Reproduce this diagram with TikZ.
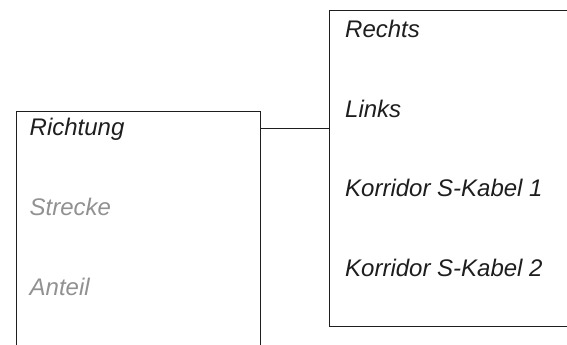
\documentclass[tikz,border=0pt]{standalone}
\usepackage{fontspec}
\setmainfont{Liberation Sans}
\definecolor{txt}{RGB}{30,30,30}
\definecolor{dim}{RGB}{145,145,145}
\begin{document}
\begin{tikzpicture}[x=1pt,y=-1pt,
  boxs/.style={draw=txt,line width=1pt,rectangle,inner sep=0pt,anchor=north west},
  lbl/.style={anchor=base west,inner sep=0pt,font=\fontsize{24}{29}\selectfont\itshape,text=txt},
  lbldim/.style={lbl,text=dim},
  conn/.style={draw=txt,line width=1pt}]
\useasboundingbox (0,0) rectangle (567,345);
\begin{scope}
\clip (0,0) rectangle (567,345);
\node[boxs,minimum width=244pt,minimum height=300pt] (lb) at (16,111) {};
\node[boxs,minimum width=320pt,minimum height=315pt] (rb) at (329,10.5) {};
\end{scope}
\node[lbl] (t1) at (29.5,135.7) {Richtung};
\node[lbldim] (t2) at (29.5,215.5) {Strecke};
\node[lbldim] (t3) at (29.5,295.5) {Anteil};
\node[lbl] (r1) at (345,37.7) {Rechts};
\node[lbl] (r2) at (345,117.7) {Links};
\node[lbl] (r3) at (345,196.8) {Korridor S-Kabel 1};
\node[lbl] (r4) at (345,276.8) {Korridor S-Kabel 2};
\path (lb.north east) ++(0,17) coordinate (ca);
\draw[conn] (ca) -- (ca -| rb.west);
\end{tikzpicture}
\end{document}
